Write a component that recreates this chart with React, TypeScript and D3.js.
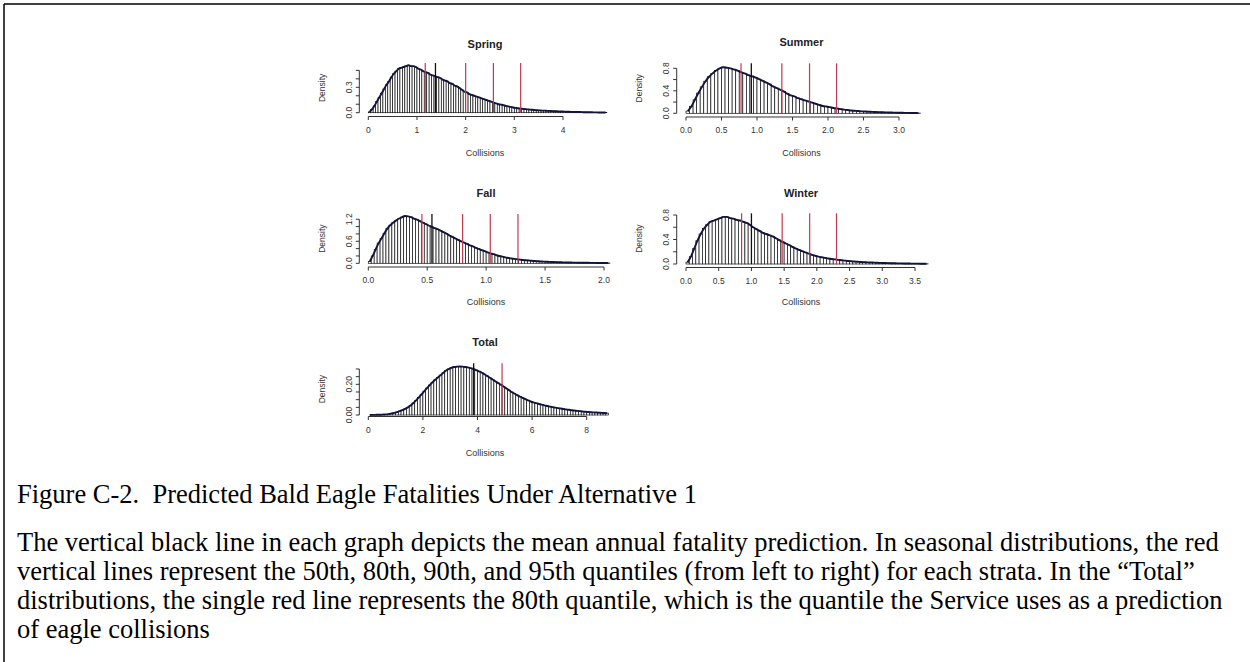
import React from "react";
import * as d3 from "d3";

// histogram densities, one value per bin starting at 0
const springDensity = [
  0.01, 0.04, 0.08, 0.13, 0.18, 0.23, 0.28, 0.33, 0.37, 0.42, 0.46, 0.49, 0.52, 0.53, 0.54, 0.55, 0.56, 0.55, 0.55, 0.54,
  0.52, 0.51, 0.49, 0.48, 0.47, 0.45, 0.44, 0.43, 0.42, 0.41, 0.39, 0.38, 0.37, 0.35, 0.34, 0.32, 0.31, 0.29, 0.27, 0.25,
  0.24, 0.22, 0.21, 0.2, 0.19, 0.18, 0.17, 0.16, 0.15, 0.14, 0.13, 0.12, 0.11, 0.1, 0.095, 0.09, 0.08, 0.075, 0.068, 0.062,
  0.057, 0.052, 0.048, 0.045, 0.042, 0.039, 0.036, 0.034, 0.031, 0.029, 0.027, 0.025, 0.024, 0.022, 0.021, 0.019, 0.018, 0.017, 0.015, 0.014,
  0.013, 0.012, 0.011, 0.01, 0.009, 0.008, 0.008, 0.007, 0.006, 0.006, 0.005, 0.005, 0.004, 0.004, 0.003, 0.003, 0.003, 0.002,
];
const summerDensity = [
  0.04, 0.12, 0.24, 0.36, 0.47, 0.57, 0.65, 0.71, 0.76, 0.8, 0.82, 0.81, 0.8, 0.78, 0.76, 0.73, 0.71, 0.68, 0.66, 0.64,
  0.61, 0.58, 0.55, 0.52, 0.48, 0.45, 0.42, 0.39, 0.35, 0.32, 0.3, 0.27, 0.25, 0.23, 0.21, 0.19, 0.17, 0.15, 0.13, 0.12,
  0.11, 0.095, 0.085, 0.075, 0.065, 0.058, 0.05, 0.045, 0.04, 0.035, 0.031, 0.028, 0.025, 0.022, 0.02, 0.018, 0.016, 0.014, 0.012, 0.011,
  0.009, 0.008, 0.007, 0.006, 0.005, 0.004,
];
const fallDensity = [
  0.05, 0.2, 0.38, 0.55, 0.68, 0.82, 0.95, 1.04, 1.11, 1.17, 1.22, 1.26, 1.29, 1.28, 1.26, 1.22, 1.19, 1.15, 1.11, 1.07,
  1.03, 0.99, 0.96, 0.93, 0.89, 0.85, 0.81, 0.76, 0.72, 0.68, 0.64, 0.6, 0.56, 0.53, 0.49, 0.46, 0.42, 0.39, 0.36, 0.33,
  0.3, 0.27, 0.25, 0.22, 0.2, 0.18, 0.16, 0.145, 0.13, 0.12, 0.11, 0.1, 0.09, 0.082, 0.075, 0.068, 0.062, 0.056, 0.05, 0.046,
  0.042, 0.038, 0.035, 0.032, 0.029, 0.027, 0.025, 0.023, 0.021, 0.019, 0.018, 0.016, 0.015, 0.014, 0.013, 0.012, 0.011, 0.01, 0.009, 0.008,
  0.007, 0.006,
];
const winterDensity = [
  0.03, 0.12, 0.25, 0.38, 0.49, 0.58, 0.64, 0.69, 0.71, 0.73, 0.75, 0.77, 0.77, 0.75, 0.74, 0.72, 0.71, 0.69, 0.67, 0.64,
  0.6, 0.57, 0.54, 0.51, 0.49, 0.47, 0.45, 0.42, 0.39, 0.36, 0.335, 0.31, 0.28, 0.255, 0.23, 0.21, 0.19, 0.17, 0.15, 0.135,
  0.12, 0.11, 0.1, 0.09, 0.082, 0.075, 0.068, 0.062, 0.056, 0.05, 0.045, 0.04, 0.037, 0.033, 0.03, 0.027, 0.025, 0.022, 0.02, 0.018,
  0.016, 0.015, 0.013, 0.012, 0.011, 0.01, 0.009, 0.008, 0.007, 0.006, 0.006, 0.005, 0.004, 0.004,
];
const totalDensity = [
  0, 0.001, 0.001, 0.002, 0.002, 0.003, 0.004, 0.006, 0.01, 0.014, 0.019, 0.025, 0.032, 0.04, 0.05, 0.062, 0.078, 0.095, 0.115, 0.135,
  0.155, 0.175, 0.195, 0.213, 0.23, 0.245, 0.26, 0.275, 0.29, 0.3, 0.308, 0.313, 0.315, 0.316, 0.315, 0.313, 0.31, 0.305, 0.3, 0.293,
  0.285, 0.277, 0.266, 0.255, 0.243, 0.232, 0.22, 0.209, 0.198, 0.186, 0.174, 0.162, 0.15, 0.14, 0.13, 0.12, 0.112, 0.104, 0.096, 0.088,
  0.082, 0.077, 0.072, 0.068, 0.063, 0.059, 0.055, 0.051, 0.048, 0.045, 0.042, 0.039, 0.036, 0.034, 0.031, 0.029, 0.027, 0.025, 0.023, 0.021,
  0.02, 0.018, 0.017, 0.016, 0.015, 0.014, 0.013, 0.012,
];
const binWidths = [0.05, 0.05, 0.025, 0.05, 0.1];

// red = 50/80/90/95th quantiles (total: 80th only), black = mean
const springQuantiles = [1.17, 2.0, 2.57, 3.13];
const summerQuantiles = [0.775, 1.35, 1.74, 2.12];
const fallQuantiles = [0.455, 0.8, 1.035, 1.27];
const winterQuantiles = [0.85, 1.47, 1.89, 2.3];
const totalQuantiles = [4.9];
const means = [1.38, 0.92, 0.54, 1.0, 3.86];

const titles = ["Spring", "Summer", "Fall", "Winter", "Total"];
const springXTicks = [0, 1, 2, 3, 4];
const summerXTicks = [0, 0.5, 1, 1.5, 2, 2.5, 3];
const fallXTicks = [0, 0.5, 1, 1.5, 2];
const winterXTicks = [0, 0.5, 1, 1.5, 2, 2.5, 3, 3.5];
const totalXTicks = [0, 2, 4, 6, 8];
const springYTicks = [0, 0.1, 0.2, 0.3, 0.4, 0.5];
const summerYTicks = [0, 0.2, 0.4, 0.6, 0.8];
const fallYTicks = [0, 0.2, 0.4, 0.6, 0.8, 1.0, 1.2];
const winterYTicks = [0, 0.2, 0.4, 0.6, 0.8];
const totalYTicks = [0, 0.05, 0.1, 0.15, 0.2, 0.25, 0.3];
const springYLabels = [0, 0.3];
const summerYLabels = [0, 0.4, 0.8];
const fallYLabels = [0, 0.6, 1.2];
const winterYLabels = [0, 0.4, 0.8];
const totalYLabels = [0, 0.2];
const yTops = [0.587, 0.889, 1.343, 0.828, 0.337];

const caption = "Figure C-2.  Predicted Bald Eagle Fatalities Under Alternative 1";
const noteLines = [
  "The vertical black line in each graph depicts the mean annual fatality prediction. In seasonal distributions, the red",
  "vertical lines represent the 50th, 80th, 90th, and 95th quantiles (from left to right) for each strata. In the \u201cTotal\u201d",
  "distributions, the single red line represents the 80th quantile, which is the quantile the Service uses as a prediction",
  "of eagle collisions",
];

// pixel layout of each panel
const layouts = [
  { x: [368.3, 563], base: 112.7, top: 63, axisY: 116.5, yAxisX: 359.3, cx: 485, titleY: 45, labY: 154, densX: 323 },
  { x: [686, 899], base: 113.3, top: 63.3, axisY: 117, yAxisX: 676.7, cx: 801.5, titleY: 43, labY: 154, densX: 640 },
  { x: [368.3, 604], base: 263.3, top: 214, axisY: 267, yAxisX: 359.3, cx: 486, titleY: 194, labY: 303, densX: 323 },
  { x: [686, 915], base: 264, top: 213.3, axisY: 267.5, yAxisX: 676.7, cx: 801, titleY: 194, labY: 303, densX: 640 },
  { x: [368.3, 586.7], base: 415, top: 363.3, axisY: 416.5, yAxisX: 359.3, cx: 485, titleY: 343, labY: 454, densX: 323 },
];

const sans = "'Liberation Sans', Arial, sans-serif";
const serif = "'Liberation Serif', 'Times New Roman', serif";

const Panel = ({ i, data, bin, quant, xTicks, yTicks, yLabels, xFmt, yFmt }) => {
  const L = layouts[i];
  const x = d3.scaleLinear().domain([0, xTicks[xTicks.length - 1]]).range(L.x);
  const y = d3.scaleLinear().domain([0, yTops[i]]).range([L.base, L.top]);
  const bw = x(bin) - x(0);
  const line = d3
    .line()
    .x((d, k) => x(k * bin + bin / 2))
    .y((d) => y(d))
    .curve(d3.curveMonotoneX);
  return (
    <g>
      {data.map((d, k) => (
        <rect
          key={k}
          x={x(k * bin)}
          y={y(d)}
          width={bw}
          height={L.base - y(d)}
          fill="#fff"
          stroke="#111"
          strokeWidth={0.7}
        />
      ))}
      <path d={line(data)} fill="none" stroke="#14143a" strokeWidth={1.9} />
      {quant.map((q, k) => (
        <line key={k} x1={x(q)} x2={x(q)} y1={L.base} y2={L.top} stroke="#c23a50" strokeWidth={1.2} />
      ))}
      <line x1={x(means[i])} x2={x(means[i])} y1={L.base} y2={L.top} stroke="#111" strokeWidth={1.3} />
      {/* x axis */}
      <line x1={x(xTicks[0])} x2={x(xTicks[xTicks.length - 1])} y1={L.axisY} y2={L.axisY} stroke="#333" />
      {xTicks.map((t) => (
        <g key={t}>
          <line x1={x(t)} x2={x(t)} y1={L.axisY} y2={L.axisY + 3.5} stroke="#333" />
          <text x={x(t)} y={L.axisY + 14} fontSize={8.5} fill="#333" textAnchor="middle" dominantBaseline="middle" fontFamily={sans}>
            {xFmt(t)}
          </text>
        </g>
      ))}
      {/* y axis */}
      <line x1={L.yAxisX} x2={L.yAxisX} y1={y(0)} y2={y(yTicks[yTicks.length - 1])} stroke="#333" />
      {yTicks.map((t) => (
        <line key={t} x1={L.yAxisX - 3.5} x2={L.yAxisX} y1={y(t)} y2={y(t)} stroke="#333" />
      ))}
      {yLabels.map((t) => (
        <text
          key={t}
          transform={`translate(${L.yAxisX - 10},${y(t)}) rotate(-90)`}
          fontSize={8.5}
          fill="#333"
          textAnchor="middle"
          dominantBaseline="middle"
          fontFamily={sans}
        >
          {yFmt(t)}
        </text>
      ))}
      <text
        transform={`translate(${L.densX},${(L.base + L.top) / 2}) rotate(-90)`}
        fontSize={8.5}
        fill="#333"
        textAnchor="middle"
        dominantBaseline="middle"
        fontFamily={sans}
      >
        Density
      </text>
      <text x={L.cx} y={L.labY} fontSize={9} fill="#333" textAnchor="middle" dominantBaseline="middle" fontFamily={sans}>
        Collisions
      </text>
      <text x={L.cx} y={L.titleY} fontSize={11} fontWeight="bold" fill="#222" textAnchor="middle" dominantBaseline="middle" fontFamily={sans}>
        {titles[i]}
      </text>
    </g>
  );
};

const App = () => {
  const f0 = d3.format("d");
  const f1 = d3.format(".1f");
  const f2 = d3.format(".2f");
  return (
    <svg width={1250} height={662} style={{ position: "absolute", left: 0, top: 0, background: "#fff" }}>
      <rect width={1250} height={662} fill="#fff" />
      <line x1={4} x2={1250} y1={4} y2={4} stroke="#000" strokeWidth={1.5} />
      <line x1={4} x2={4} y1={4} y2={662} stroke="#000" strokeWidth={1.5} />
      <Panel i={0} data={springDensity} bin={binWidths[0]} quant={springQuantiles} xTicks={springXTicks} yTicks={springYTicks} yLabels={springYLabels} xFmt={f0} yFmt={f1} />
      <Panel i={1} data={summerDensity} bin={binWidths[1]} quant={summerQuantiles} xTicks={summerXTicks} yTicks={summerYTicks} yLabels={summerYLabels} xFmt={f1} yFmt={f1} />
      <Panel i={2} data={fallDensity} bin={binWidths[2]} quant={fallQuantiles} xTicks={fallXTicks} yTicks={fallYTicks} yLabels={fallYLabels} xFmt={f1} yFmt={f1} />
      <Panel i={3} data={winterDensity} bin={binWidths[3]} quant={winterQuantiles} xTicks={winterXTicks} yTicks={winterYTicks} yLabels={winterYLabels} xFmt={f1} yFmt={f1} />
      <Panel i={4} data={totalDensity} bin={binWidths[4]} quant={totalQuantiles} xTicks={totalXTicks} yTicks={totalYTicks} yLabels={totalYLabels} xFmt={f0} yFmt={f2} />
      <text x={17} y={503} fontSize={26.5} fontFamily={serif} style={{ whiteSpace: "pre" }}>
        {caption}
      </text>
      {noteLines.map((t, k) => (
        <text key={k} x={17} y={551 + k * 29} fontSize={26.5} fontFamily={serif}>
          {t}
        </text>
      ))}
    </svg>
  );
};

export default App;
